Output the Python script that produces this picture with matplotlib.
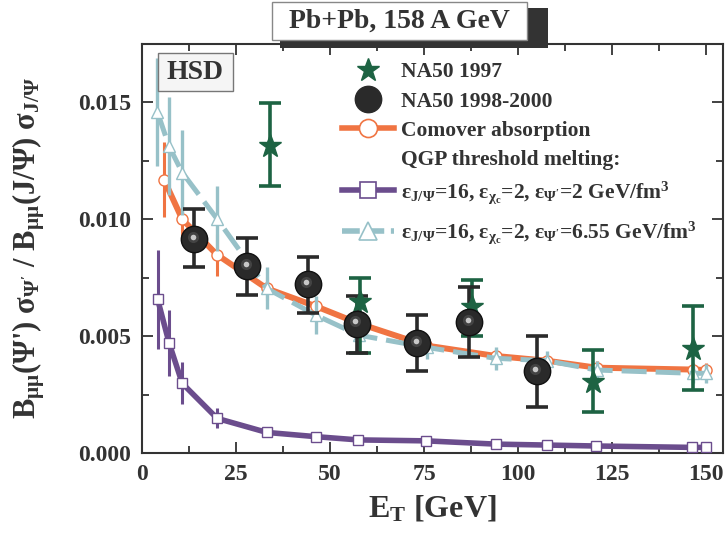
import matplotlib
matplotlib.use("Agg")
import matplotlib.pyplot as plt
from matplotlib.lines import Line2D
from matplotlib.patches import Rectangle
from matplotlib.transforms import offset_copy
from matplotlib.ticker import MultipleLocator, FormatStrFormatter

# ---------------- data ----------------
na97_x = [34.0, 58.0, 87.7, 119.9, 146.6]
na97_y = [0.01312, 0.00647, 0.00625, 0.00305, 0.00443]
na97_lo = [0.01141, 0.00430, 0.00501, 0.00177, 0.00269]
na97_hi = [0.01497, 0.00750, 0.00740, 0.00440, 0.00630]

na98_x = [13.9, 28.0, 44.1, 57.1, 73.1, 87.0, 105.0]
na98_y = [0.00915, 0.00800, 0.00721, 0.00554, 0.00471, 0.00561, 0.00352]
na98_lo = [0.00796, 0.00678, 0.00597, 0.00426, 0.00350, 0.00412, 0.00198]
na98_hi = [0.01042, 0.00922, 0.00839, 0.00671, 0.00590, 0.00711, 0.00500]

comover_x = [5.85, 10.7, 19.9, 33.2, 46.2, 57.7, 75.5, 94.1, 107.6, 120.9, 146.6, 150.0]
comover_y = [0.0117, 0.0100, 0.00849, 0.00704, 0.00628, 0.00554, 0.0046, 0.00415,
             0.00395, 0.00365, 0.00357, 0.00355]
comover_err = [0.0016, 0.0008, 0.0009, 0.0005, 0.0004, 0.0003, 0.0003, 0.0003,
               0.0003, 0.0003, 0.0003, 0.0003]

qgp655_x = [4.1, 7.2, 10.7, 19.9, 33.2, 46.2, 57.7, 75.7, 94.1, 107.6, 120.9, 146.6, 150.0]
qgp655_y = [0.01459, 0.01312, 0.0120, 0.01003, 0.00704, 0.0059, 0.00504, 0.00452,
            0.00405, 0.00395, 0.00355, 0.00341, 0.00341]
qgp655_err = [0.0023, 0.0021, 0.0018, 0.0014, 0.0009, 0.0008, 0.0006, 0.0005,
              0.0005, 0.0004, 0.0004, 0.0004, 0.0004]

qgp2_x = [4.17, 7.2, 10.7, 20.0, 33.2, 46.2, 57.5, 75.5, 94.1, 107.6, 120.6, 146.2, 150.0]
qgp2_y = [0.00657, 0.00471, 0.00298, 0.00148, 0.00088, 0.0007, 0.00056, 0.00052,
          0.00038, 0.00034, 0.0003, 0.00024, 0.00024]
qgp2_err = [0.0021, 0.0014, 0.0009, 0.00043, 0.00015, 0.00012, 0.0001, 0.0001,
            0.0001, 0.0001, 0.0001, 0.0001, 0.0001]

labels = ["NA50 1997", "NA50 1998-2000", "Comover absorption", "QGP threshold melting:",
          r"$\epsilon_{J/\Psi}$=16, $\epsilon_{\chi_c}$=2, $\epsilon_{\Psi'}$=2 GeV/fm$^3$",
          r"$\epsilon_{J/\Psi}$=16, $\epsilon_{\chi_c}$=2, $\epsilon_{\Psi'}$=6.55 GeV/fm$^3$"]
title_text = "Pb+Pb, 158 A GeV"
model_text = "HSD"
xlabel = r"E$_\mathrm{T}$ [GeV]"
ylabel = r"B$_{\mu\mu}$(Ψ') σ$_{\Psi'}$ / B$_{\mu\mu}$(J/Ψ) σ$_{J/\Psi}$"

# ---------------- style ----------------
TXT = "#333333"
C_GREEN = "#1d6343"
C_BLACK = "#2a2a2a"
C_ORANGE = "#f07442"
C_PURPLE = "#6b4d8d"
C_BLUE = "#97c1c8"

plt.rcParams["font.family"] = ["Liberation Serif", "DejaVu Serif"]
plt.rcParams["font.weight"] = "bold"
plt.rcParams["mathtext.fontset"] = "custom"
plt.rcParams["mathtext.rm"] = "Liberation Serif:bold"
plt.rcParams["mathtext.it"] = "Liberation Serif:bold"
plt.rcParams["mathtext.bf"] = "Liberation Serif:bold"
plt.rcParams["mathtext.default"] = "rm"
plt.rcParams["text.color"] = TXT

fig = plt.figure(figsize=(7.26, 5.37), dpi=100)
ax = fig.add_axes([142/726, 1-453/537, 581/726, 409/537])

# model curves
ax.errorbar(qgp2_x, qgp2_y, yerr=qgp2_err, color=C_PURPLE, lw=4.0, marker="s", ms=7,
            mfc="white", mec=C_PURPLE, mew=1.0, elinewidth=2.2, capsize=0, zorder=3)
ax.errorbar(comover_x, comover_y, yerr=comover_err, color=C_ORANGE, lw=4.3, marker="o", ms=8,
            mfc="white", mec=C_ORANGE, mew=1.0, elinewidth=2.2, capsize=0, zorder=3)
ax.errorbar(qgp655_x, qgp655_y, yerr=qgp655_err, color=C_BLUE, lw=3.6, ls=(0, (5, 1.8)),
            marker="^", ms=8, mfc="white", mec=C_BLUE, mew=1.0, elinewidth=2.4, capsize=0, zorder=4)

# data
ax.errorbar(na97_x, na97_y,
            yerr=[[y - l for y, l in zip(na97_y, na97_lo)], [h - y for y, h in zip(na97_y, na97_hi)]],
            fmt="none", ecolor=C_GREEN, elinewidth=2.6, capsize=8, capthick=2.6, zorder=5)
ax.plot(na97_x, na97_y, ls="none", marker="*", ms=17, color=C_GREEN, zorder=6)

ax.errorbar(na98_x, na98_y,
            yerr=[[y - l for y, l in zip(na98_y, na98_lo)], [h - y for y, h in zip(na98_y, na98_hi)]],
            fmt="none", ecolor=C_BLACK, elinewidth=2.6, capsize=8, capthick=2.6, zorder=5)
ax.plot(na98_x, na98_y, ls="none", marker="o", ms=19, color=C_BLACK, mec="#111111", zorder=6)
hl1 = offset_copy(ax.transData, fig=fig, x=-1.0, y=1.6, units="points")
ax.plot(na98_x, na98_y, ls="none", marker="o", ms=8, color="#555555", mec="none",
        alpha=0.6, transform=hl1, zorder=7)
ax.plot(na98_x, na98_y, ls="none", marker="o", ms=4, color="#d0d0d0", mec="none",
        alpha=0.95, transform=hl1, zorder=7)

ax.set_xlim(0, 154.5)
ax.set_ylim(0, 0.0175)
ax.xaxis.set_major_locator(MultipleLocator(25))
ax.xaxis.set_minor_locator(MultipleLocator(12.5))
ax.yaxis.set_major_locator(MultipleLocator(0.005))
ax.yaxis.set_minor_locator(MultipleLocator(0.0025))
ax.yaxis.set_major_formatter(FormatStrFormatter("%.3f"))
ax.tick_params(which="both", direction="in", top=True, right=True, colors=TXT,
               width=1.3, labelsize=17, pad=8)
ax.tick_params(which="major", length=8)
ax.tick_params(which="minor", length=5)
for s in ax.spines.values():
    s.set_color(TXT)
    s.set_linewidth(1.5)
for lab in ax.get_xticklabels() + ax.get_yticklabels():
    lab.set_fontweight("bold")

ax.set_xlabel(xlabel, fontsize=23, fontweight="bold", color=TXT, labelpad=6)
ax.set_ylabel(ylabel, fontsize=22, fontweight="bold", color=TXT, labelpad=22)

# legend
h1 = Line2D([], [], ls="none", marker="*", ms=17, color=C_GREEN)
h2 = Line2D([], [], ls="none", marker="o", ms=19, color=C_BLACK)
h3 = Line2D([], [], color=C_ORANGE, lw=4, marker="o", ms=13, mfc="white", mec=C_ORANGE, mew=1.2)
h4 = Line2D([], [], ls="none")
h5 = Line2D([], [], color=C_PURPLE, lw=4, marker="s", ms=12, mfc="white", mec=C_PURPLE, mew=1.2)
h6 = Line2D([], [], color=C_BLUE, lw=4, ls=(0, (3.2, 1.2)), marker="^", ms=13, mfc="white",
            mec=C_BLUE, mew=1.2)
common = dict(frameon=False, fontsize=15.5, handlelength=2.4, handletextpad=0.3,
              borderpad=0, borderaxespad=0)
leg1 = ax.legend([h1, h2, h3, h4, h5], labels[:5], loc="upper left",
                 bbox_to_anchor=(0.345, 0.955), labelspacing=0.42, **common)
ax.add_artist(leg1)
leg2 = ax.legend([h6], labels[5:], loc="center left",
                 bbox_to_anchor=(0.345, 1 - (233 - 44) / 409), **common)
for lg in (leg1, leg2):
    for t in lg.get_texts():
        t.set_color(TXT)
        t.set_fontweight("bold")

# HSD box
ax.add_patch(Rectangle((0.0275, 0.885), 0.129, 0.093, transform=ax.transAxes,
                       facecolor="#f5f5f5", edgecolor="#777777", lw=1.0, zorder=8))
ax.text(0.0275 + 0.129/2, 0.885 + 0.093/2, model_text, transform=ax.transAxes,
        ha="center", va="center", fontsize=20, fontweight="bold", color=TXT, zorder=9)

# title box with shadow
fig.patches.append(Rectangle((280/726, 1-48/537), 268/726, 40/537, transform=fig.transFigure,
                             facecolor="#333333", edgecolor="none", zorder=10))
fig.patches.append(Rectangle((272/726, 1-40/537), 255/726, 38/537, transform=fig.transFigure,
                             facecolor="white", edgecolor="#888888", lw=1.0, zorder=11))
fig.text(399.5/726, 1-21/537, title_text, ha="center", va="center", fontsize=20,
         fontweight="bold", color=TXT, zorder=12)

fig.savefig("out.png", dpi=100)
